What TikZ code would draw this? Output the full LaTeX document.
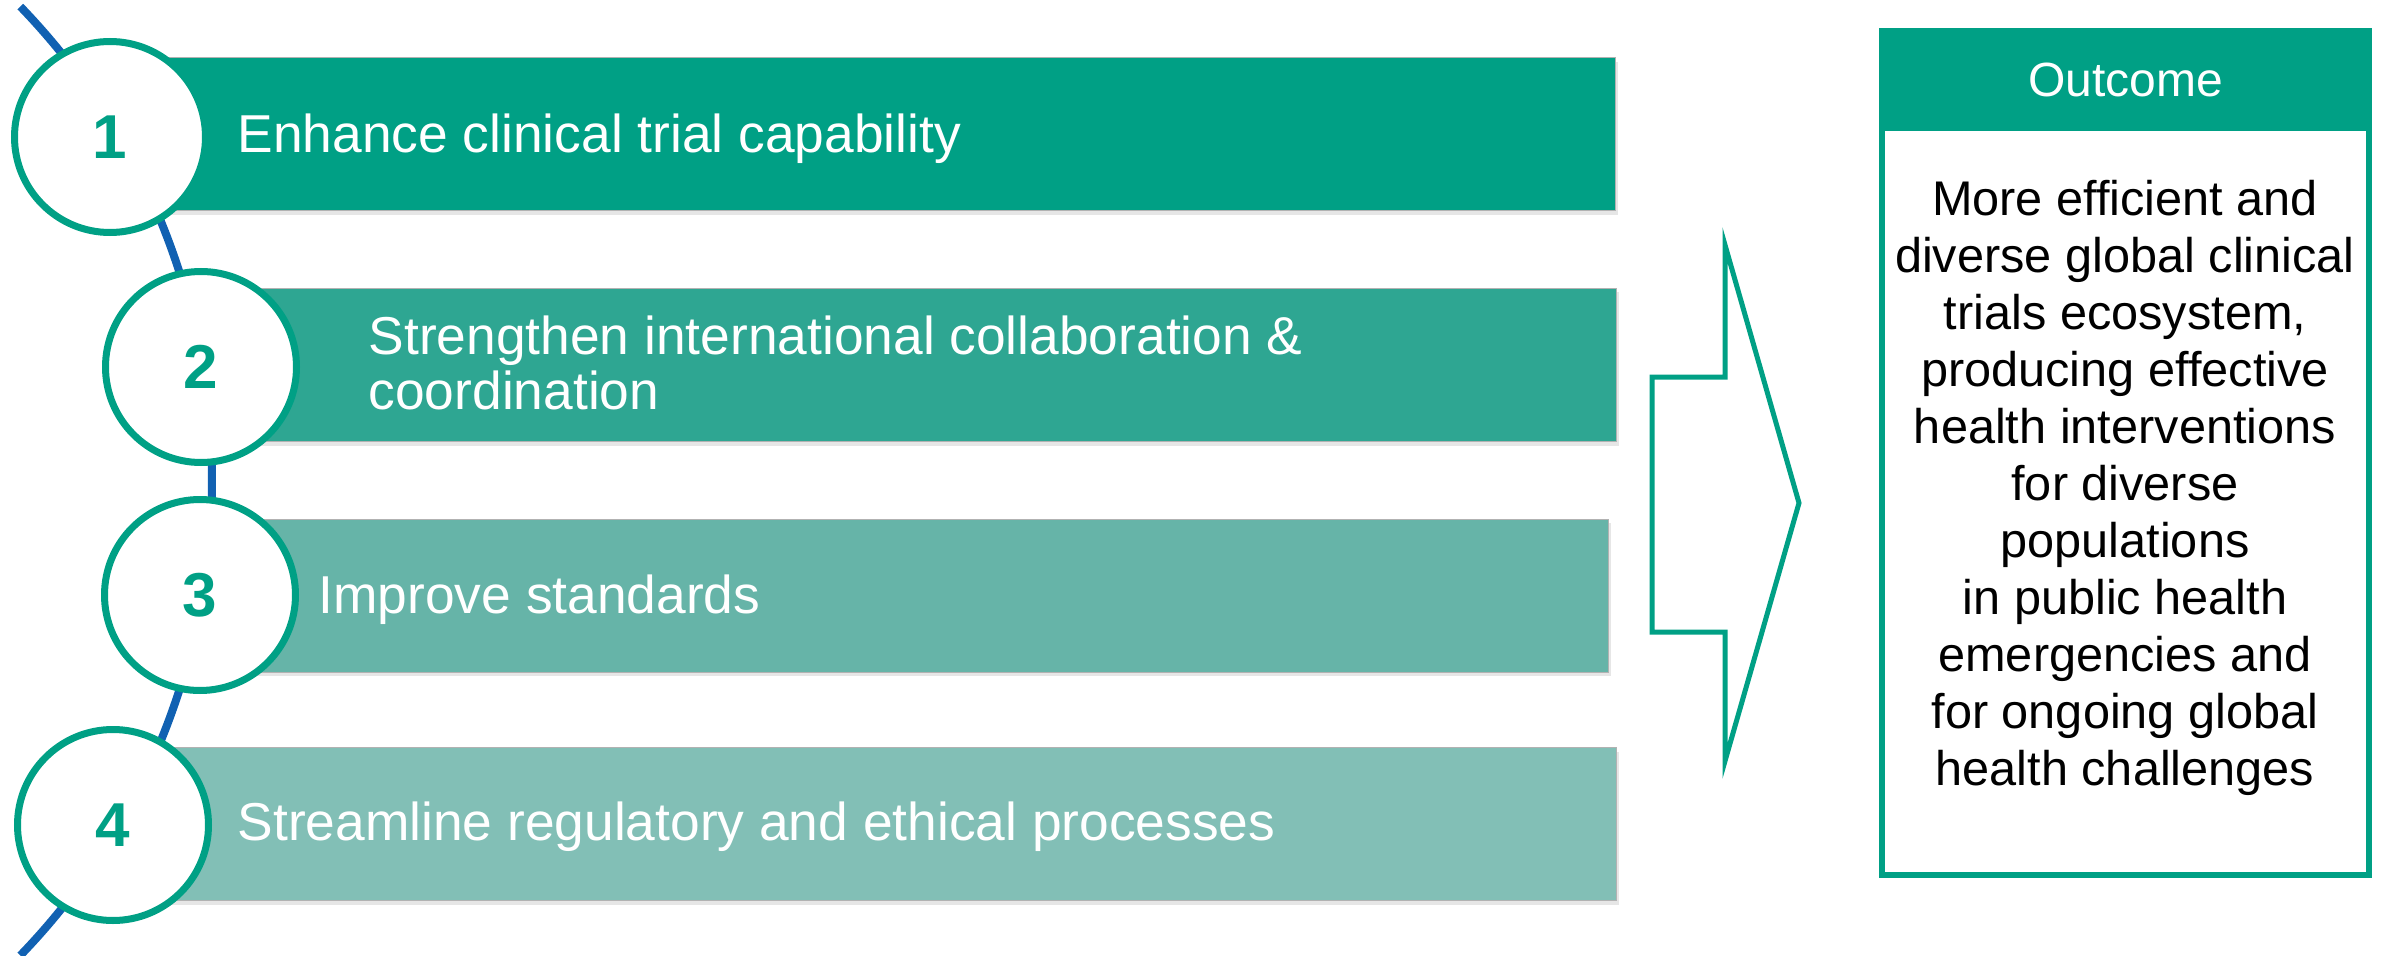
\documentclass[tikz,border=0pt]{standalone}
\usepackage{fontspec}
\setmainfont{Liberation Sans}
\usetikzlibrary{shadows}

\definecolor{tealA}{RGB}{0,160,133}
\definecolor{tealB}{RGB}{46,166,146}
\definecolor{tealC}{RGB}{102,180,168}
\definecolor{tealD}{RGB}{130,191,182}
\definecolor{railblue}{RGB}{17,97,178}

\begin{document}
\begin{tikzpicture}[x=0.3pt, y=-0.3pt,
  bar/.style={draw=black!30, line width=0.3pt, inner sep=0pt, anchor=west,
    minimum height=153*\PX,
    drop shadow={shadow xshift=0.6pt, shadow yshift=-1.2pt, opacity=0.2}},
  numring/.style={circle, draw=tealA, line width=2.1pt, fill=white,
    minimum size=191*\PX, inner sep=0pt, text=tealA,
    font=\fontsize{18.6}{18.6}\selectfont\bfseries},
  bartext/.style={inner sep=0pt, text=white, align=left,
    font=\fontsize{16}{16.5}\selectfont},
  outtext/.style={inner sep=0pt, align=center,
    font=\fontsize{14.6}{17.1}\selectfont}]

  \newcommand\PX{0.3pt}

  \useasboundingbox (0,0) rectangle (2399,956);

  % the blue rail behind the rings
  \coordinate (hub) at (-471,481);
  \draw[railblue, line width=2.4pt]
    ([shift={(-44:683)}]hub) arc[start angle=-44, end angle=44, radius=683];

  % bars
  \node[bar, fill=tealA, minimum width=1505*\PX] (b1) at (110,134.5) {};
  \node[bar, fill=tealB, minimum width=1415*\PX] (b2) at (201,365) {};
  \node[bar, fill=tealC, minimum width=1408*\PX] (b3) at (200,595.5) {};
  \node[bar, fill=tealD, minimum width=1503*\PX] (b4) at (113,824) {};

  % rings
  \node[numring] (c1) at (110,137) {1};
  \node[numring] (c2) at (201,367) {2};
  \node[numring] (c3) at (200,595) {3};
  \node[numring] (c4) at (113,825) {4};

  \node[bartext, anchor=base west] (t1) at (237,153) {Enhance clinical trial capability};
  \node[bartext, anchor=west] (t2) at (368,363)
    {Strengthen international collaboration \&\\coordination};
  \node[bartext, anchor=base west] (t3) at (318,613) {Improve standards};
  \node[bartext, anchor=base west] (t4) at (237,840) {Streamline regulatory and ethical processes};

  % big arrow
  \draw[tealA, line width=1.5pt, fill=white]
    (1652,377) -- (1725,377) -- (1725,245) -- (1799,503)
    -- (1725,761) -- (1725,632) -- (1652,632) -- cycle;

  % outcome box
  \node[draw=tealA, line width=1.8pt, minimum width=487*\PX, minimum height=844*\PX,
    inner sep=0pt] (outbox) at (2125.5,453) {};
  \node[fill=tealA, minimum width=493*\PX, minimum height=103*\PX, inner sep=0pt,
    text=white, font=\fontsize{14.4}{14.4}\selectfont] (outhead) at (2125.5,79.5) {Outcome};
  \node[outtext, anchor=north] (outbody) at (2125,180)
    {More efficient and\\diverse global clinical\\trials ecosystem,\\producing effective\\health interventions\\for diverse\\populations\\in public health\\emergencies and\\for ongoing global\\health challenges};

\end{tikzpicture}
\end{document}
